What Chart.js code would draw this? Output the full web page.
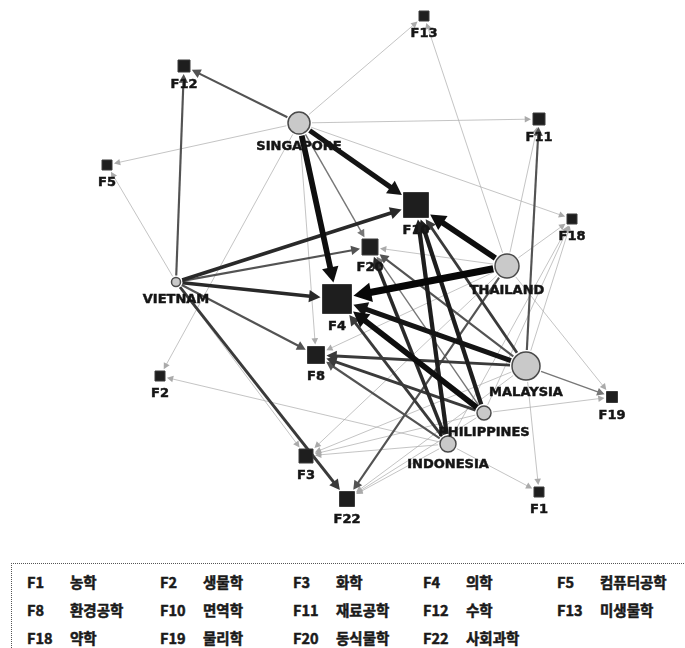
<!DOCTYPE html>
<html>
<head>
<meta charset="utf-8">
<script src="https://cdn.jsdelivr.net/npm/chart.js@4.4.1/dist/chart.umd.min.js"></script>
<style>
  html, body { margin: 0; padding: 0; background: #fff; }
  body { width: 685px; height: 648px; position: relative; overflow: hidden; }
  #wrap { position: absolute; left: 0; top: 0; width: 685px; height: 530px; }
  #legendBox {
    position: absolute; left: 11px; top: 563px; width: 700px; height: 120px;
    border-top: 1px dotted #555; border-left: 1px dotted #555;
  }
  .lg {
    position: absolute; font-family: "Noto Sans CJK KR", sans-serif; font-weight: 700;
    font-size: 14.5px; line-height: 20px; color: #1a1a1a; white-space: nowrap;
    -webkit-text-stroke: 0.5px #1a1a1a;
  }
</style>
</head>
<body>
<div id="wrap"><canvas id="netChart"></canvas></div>
<div id="legendBox"></div>
<div id="legendItems"></div>
<script>
// countries (circles) - layout position and node weight
const countries = ['SINGAPORE', 'VIETNAM', 'THAILAND', 'MALAYSIA', 'PHILIPPINES', 'INDONESIA'];
const countryX = [299, 176, 507, 526, 484, 448];
const countryY = [123, 282, 266, 366, 413, 444];
const countryWeight = [11, 4.5, 12, 14, 7, 8];

// research fields (squares)
const fields = ['F1', 'F2', 'F3', 'F4', 'F5', 'F8', 'F10', 'F11', 'F12', 'F13', 'F18', 'F19', 'F20', 'F22'];
const fieldNames = ['농학', '생물학', '화학', '의학', '컴퓨터공학', '환경공학', '면역학', '재료공학', '수학', '미생물학', '약학', '물리학', '동식물학', '사회과학'];
const fieldX = [539, 160, 306, 337, 107, 316, 416, 539, 184, 424, 572, 612, 370, 347];
const fieldY = [492, 376, 456, 299, 165, 355, 205, 119, 66, 16, 219, 397, 247, 499];
const fieldWeight = [10, 10, 14, 29, 10, 17, 25, 12, 12, 10, 10, 11, 16, 15];

// links: country -> field, strength
const edges = [
    ['SINGAPORE', 'F12', 3], ['SINGAPORE', 'F5', 1], ['SINGAPORE', 'F13', 1], ['SINGAPORE', 'F11', 1],
    ['SINGAPORE', 'F18', 1], ['SINGAPORE', 'F10', 7], ['SINGAPORE', 'F4', 8], ['SINGAPORE', 'F20', 2],
    ['SINGAPORE', 'F8', 1], ['SINGAPORE', 'F2', 1],
    ['VIETNAM', 'F12', 3], ['VIETNAM', 'F5', 1], ['VIETNAM', 'F10', 5], ['VIETNAM', 'F20', 3],
    ['VIETNAM', 'F4', 5], ['VIETNAM', 'F8', 3], ['VIETNAM', 'F3', 1], ['VIETNAM', 'F22', 4],
    ['THAILAND', 'F10', 8], ['THAILAND', 'F4', 10], ['THAILAND', 'F13', 1], ['THAILAND', 'F20', 1],
    ['THAILAND', 'F8', 1], ['THAILAND', 'F19', 1], ['THAILAND', 'F3', 1], ['THAILAND', 'F22', 3],
    ['THAILAND', 'F11', 1], ['THAILAND', 'F18', 1],
    ['MALAYSIA', 'F11', 3], ['MALAYSIA', 'F4', 7], ['MALAYSIA', 'F8', 4], ['MALAYSIA', 'F10', 4],
    ['MALAYSIA', 'F20', 3], ['MALAYSIA', 'F19', 2], ['MALAYSIA', 'F1', 1], ['MALAYSIA', 'F18', 1],
    ['MALAYSIA', 'F3', 1], ['MALAYSIA', 'F22', 1],
    ['PHILIPPINES', 'F4', 8], ['PHILIPPINES', 'F10', 6], ['PHILIPPINES', 'F8', 4], ['PHILIPPINES', 'F20', 2],
    ['PHILIPPINES', 'F3', 1], ['PHILIPPINES', 'F22', 1], ['PHILIPPINES', 'F18', 1], ['PHILIPPINES', 'F19', 1],
    ['INDONESIA', 'F10', 6], ['INDONESIA', 'F20', 5], ['INDONESIA', 'F4', 4], ['INDONESIA', 'F8', 3],
    ['INDONESIA', 'F3', 1], ['INDONESIA', 'F22', 1], ['INDONESIA', 'F1', 1], ['INDONESIA', 'F18', 1],
    ['INDONESIA', 'F2', 1]
];

const lineWidth = (w) => 0.7 + 0.72 * (w - 1);
const lineGray = (w) => {
    const g = Math.round(170 * Math.pow(0.7, w - 1));
    return `rgb(${g},${g},${g})`;
};

const edgePlugin = {
    id: 'edges',
    beforeDatasetsDraw(chart) {
        const { ctx, scales: { x, y } } = chart;
        ctx.save();
        [...edges].sort((a, b) => a[2] - b[2]).forEach(([c, f, w]) => {
            const ci = countries.indexOf(c), fi = fields.indexOf(f);
            const sx = x.getPixelForValue(countryX[ci]), sy = y.getPixelForValue(countryY[ci]);
            const tx = x.getPixelForValue(fieldX[fi]), ty = y.getPixelForValue(fieldY[fi]);
            const dx = tx - sx, dy = ty - sy, len = Math.hypot(dx, dy);
            const ux = dx / len, uy = dy / len;
            const half = fieldWeight[fi] / 2;
            const toEdge = half / Math.max(Math.abs(ux), Math.abs(uy)) + 2;
            const lw = lineWidth(w);
            const aLen = 5 + lw * 1.8, aHalf = 2.6 + lw * 1.0;
            const ex = tx - ux * toEdge, ey = ty - uy * toEdge;
            const bx = ex - ux * aLen, by = ey - uy * aLen;
            const st = countryWeight[ci] + 2;
            ctx.strokeStyle = lineGray(w);
            ctx.fillStyle = lineGray(w);
            ctx.lineWidth = lw;
            ctx.beginPath();
            ctx.moveTo(sx + ux * st, sy + uy * st);
            ctx.lineTo(bx + ux * 1, by + uy * 1);
            ctx.stroke();
            ctx.beginPath();
            ctx.moveTo(ex, ey);
            ctx.lineTo(bx - uy * aHalf, by + ux * aHalf);
            ctx.lineTo(bx + uy * aHalf, by - ux * aHalf);
            ctx.closePath();
            ctx.fill();
        });
        ctx.restore();
    }
};

const labelPlugin = {
    id: 'nodeLabels',
    afterDatasetsDraw(chart) {
        const { ctx, scales: { x, y } } = chart;
        ctx.save();
        ctx.font = 'bold 13px "DejaVu Sans"';
        ctx.fillStyle = '#151515';
        ctx.strokeStyle = '#151515';
        ctx.lineWidth = 0.5;
        ctx.textAlign = 'center';
        ctx.textBaseline = 'middle';
        const put = (txt, px, py) => { ctx.fillText(txt, px, py); ctx.strokeText(txt, px, py); };
        countries.forEach((c, i) => {
            put(c, x.getPixelForValue(countryX[i]), y.getPixelForValue(countryY[i]) + countryWeight[i] + 13);
        });
        fields.forEach((f, i) => {
            put(f, x.getPixelForValue(fieldX[i]), y.getPixelForValue(fieldY[i]) + fieldWeight[i] / 2 + 13);
        });
        ctx.restore();
    }
};

const netCtx = document.getElementById('netChart').getContext('2d');
new Chart(netCtx, {
    type: 'scatter',
    data: {
        datasets: [{
            label: 'fields',
            data: fields.map((f, i) => ({ x: fieldX[i], y: fieldY[i] })),
            pointStyle: 'rect',
            pointRadius: fieldWeight.map(s => s / Math.SQRT2),
            backgroundColor: '#1e1e1e',
            borderColor: '#3a3a3a',
            borderWidth: 1
        }, {
            label: 'countries',
            data: countries.map((c, i) => ({ x: countryX[i], y: countryY[i] })),
            pointStyle: 'circle',
            pointRadius: countryWeight,
            backgroundColor: '#c9c9c9',
            borderColor: '#4a4a4a',
            borderWidth: 1.5
        }]
    },
    options: {
        responsive: true,
        maintainAspectRatio: false,
        animation: false,
        layout: { padding: 0, autoPadding: false },
        scales: {
            x: { type: 'linear', min: 0, max: 685, display: false },
            y: { type: 'linear', min: 0, max: 530, reverse: true, display: false }
        },
        plugins: {
            legend: { display: false },
            tooltip: { enabled: false }
        }
    },
    plugins: [edgePlugin, labelPlugin]
});

// field legend box
const codeCols = [27, 160, 293, 423, 557];
const rowY = [582, 610, 638];
const holder = document.getElementById('legendItems');
fields.forEach((f, i) => {
    const col = i % 5, row = Math.floor(i / 5);
    const code = document.createElement('span');
    code.className = 'lg';
    code.textContent = f;
    code.style.left = codeCols[col] + 'px';
    code.style.top = (rowY[row] - 10) + 'px';
    const name = document.createElement('span');
    name.className = 'lg';
    name.textContent = fieldNames[i];
    name.style.left = (codeCols[col] + 43) + 'px';
    name.style.top = (rowY[row] - 10) + 'px';
    holder.appendChild(code);
    holder.appendChild(name);
});
</script>
</body>
</html>
